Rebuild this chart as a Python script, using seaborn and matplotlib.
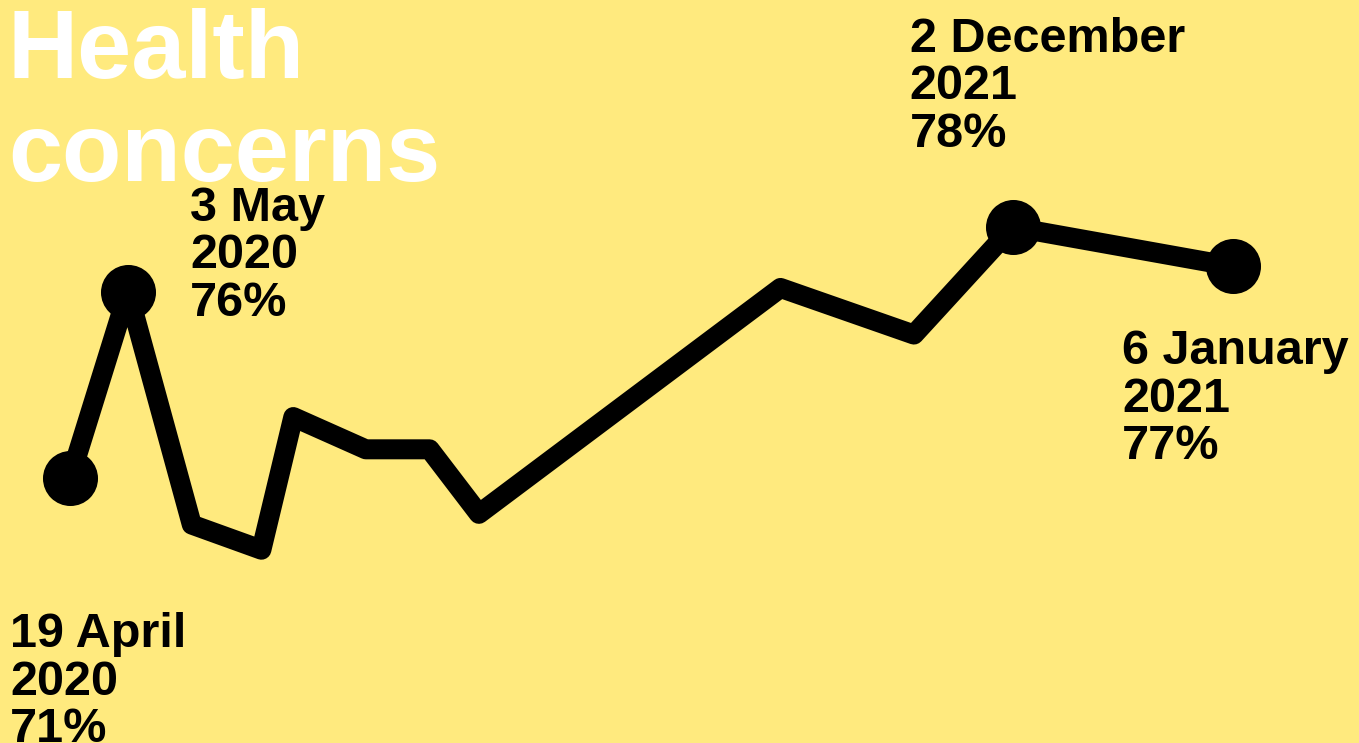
import matplotlib
matplotlib.use("Agg")
import matplotlib.pyplot as plt
import seaborn as sns
import pandas as pd

# ---- data ----
weeks = [0, 2, 4.2, 6.6, 7.7, 10.2, 12.4, 14.1, 24.5, 29.1, 32.5, 40.1]
share = [71, 76.2, 69.7, 69.0, 72.7, 71.8, 71.8, 70.0, 76.3, 75.0, 78, 76.9]
highlight_idx = [0, 1, 10, 11]
label_dates = ["19 April", "3 May", "2 December", "6 January"]
label_years = ["2020", "2020", "2021", "2021"]
label_values = ["71%", "76%", "78%", "77%"]
title_lines = ["Health", "concerns"]

BG = "#FFEA7E"
FONT = ["Liberation Sans", "DejaVu Sans"]

sns.set_theme(style="white")
plt.rcParams["font.family"] = FONT

df = pd.DataFrame({"week": weeks, "share": share})
hl = df.iloc[highlight_idx]

fig = plt.figure(figsize=(13.59, 7.43), dpi=100)
fig.patch.set_facecolor(BG)
ax = fig.add_axes([0, 0, 1, 1])
ax.set_facecolor(BG)

sns.lineplot(data=df, x="week", y="share", ax=ax, color="black", linewidth=14.4,
             solid_joinstyle="round", solid_capstyle="round", zorder=2)
sns.scatterplot(data=hl, x="week", y="share", ax=ax, color="black", s=1570,
                linewidth=0, zorder=3)

ax.set_xlim(-2.414, 44.448)
ax.set_ylim(63.61, 84.33)
ax.set_axis_off()

# labels: offsets (pixels) of the first baseline relative to the point
offsets = [(-60, -169), (62, 71), (-103, 175), (-111, -98)]
line_gap = 47.5
for k, idx in enumerate(highlight_idx):
    lines = [label_dates[k], label_years[k], label_values[k]]
    dx, dy = offsets[k]
    for j, txt in enumerate(lines):
        ax.annotate(txt, xy=(weeks[idx], share[idx]), xytext=(dx, dy - j * line_gap),
                    textcoords="offset pixels", fontsize=35, fontweight="bold",
                    color="black", ha="left", va="baseline", zorder=4)

# title
for j, txt in enumerate(title_lines):
    fig.text(8 / 1359, 1 - (78 + j * 103) / 743, txt, fontsize=70, fontweight="bold",
             color="white", ha="left", va="baseline")

fig.savefig("out.png", dpi=100, facecolor=BG)
